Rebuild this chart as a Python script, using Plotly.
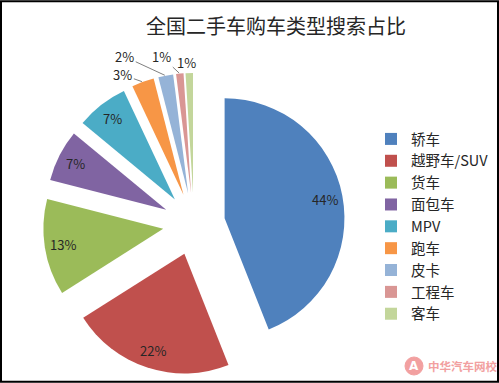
import math
import plotly.graph_objects as go

title = "全国二手车购车类型搜索占比"
categories = ["轿车", "越野车/SUV", "货车", "面包车", "MPV", "跑车", "皮卡", "工程车", "客车"]
values = [44, 22, 13, 7, 7, 3, 2, 1, 1]
colors = ["#4F81BD", "#C0504D", "#9BBB59", "#8064A2", "#4BACC6",
          "#F79646", "#95B3D7", "#D99694", "#C3D69B"]

# label styling: inside labels at a fraction of the radius, outside labels offset in px
label_inside = [True, True, True, True, True, False, False, False, False]
label_offsets = [None, None, None, None, None, (-20, -7), (-41, -19), (-18, -17), (-3, -11)]

W, H = 499, 383
font_family = "Noto Sans CJK SC, Noto Sans, sans-serif"
text_color = "#262626"
PULL = 0.26
DOM_X = [43 / W, 345 / W]
DOM_Y = [1 - 375 / H, 1 - 73 / H]

fig = go.Figure(go.Pie(
    labels=categories,
    values=values,
    sort=False,
    direction="clockwise",
    rotation=0,
    pull=[PULL] * len(values),
    marker=dict(colors=colors, line=dict(width=0)),
    textinfo="none",
    domain=dict(x=DOM_X, y=DOM_Y),
    automargin=False,
    hoverinfo="label+percent",
))

# geometry of the pie as laid out by plotly within its domain
cx = (DOM_X[0] + DOM_X[1]) / 2 * W
cy = (1 - (DOM_Y[0] + DOM_Y[1]) / 2) * H
r = min((DOM_X[1] - DOM_X[0]) * W, (DOM_Y[1] - DOM_Y[0]) * H) / 2 / (1 + PULL)

annotations = []
total = sum(values)
cum = 0
for v, inside, off in zip(values, label_inside, label_offsets):
    mid = (cum + v / 2) / total * 2 * math.pi
    cum += v
    dx, dy = math.sin(mid), -math.cos(mid)
    if inside:
        d = r * PULL + 0.85 * r
        px, py = cx + d * dx, cy + d * dy
        annotations.append(dict(
            text=f"{v}%", x=px / W, y=1 - py / H, xref="paper", yref="paper",
            showarrow=False, xanchor="center", yanchor="middle",
            font=dict(size=13, color=text_color, family=font_family)))
    else:
        d = r * (1 + PULL)
        px, py = cx + d * dx, cy + d * dy
        annotations.append(dict(
            text=f"{v}%", x=px / W, y=1 - py / H, xref="paper", yref="paper",
            showarrow=True, ax=off[0], ay=off[1], arrowhead=0, arrowwidth=1,
            arrowcolor="#7f7f7f", standoff=1, startstandoff=0,
            font=dict(size=13, color=text_color, family=font_family)))

wm_color = "#F2A0A0"
annotations += [
    dict(text="<b>A</b>", x=414 / W, y=1 - 366 / H, xref="paper", yref="paper",
         showarrow=False, font=dict(size=12, color="white", family="DejaVu Sans"),
         xanchor="center", yanchor="middle"),
    dict(text="<b>中华汽车网校</b>", x=426 / W, y=1 - 366 / H, xref="paper", yref="paper",
         showarrow=False, font=dict(size=11.5, color=wm_color, family=font_family),
         xanchor="left", yanchor="middle"),
]

fig.update_layout(
    width=W, height=H,
    margin=dict(l=0, r=0, t=0, b=0, autoexpand=False),
    paper_bgcolor="white",
    plot_bgcolor="white",
    font=dict(family=font_family, color=text_color),
    title=dict(text=title, x=276 / W, y=1 - 27 / H, xanchor="center", yanchor="middle",
               font=dict(size=20, color=text_color, family=font_family)),
    legend=dict(x=371 / W, y=1 - 123 / H, xanchor="left", yanchor="top",
                font=dict(size=14.5, color=text_color, family=font_family),
                bgcolor="rgba(0,0,0,0)"),
    showlegend=True,
    shapes=[
        dict(type="rect", xref="paper", yref="paper", x0=0.002, x1=0.998, y0=0.003, y1=0.997,
             line=dict(color="black", width=2), layer="above"),
        dict(type="circle", xref="paper", yref="paper",
             x0=405 / W, x1=423 / W, y0=1 - 375 / H, y1=1 - 357 / H,
             line=dict(color=wm_color, width=1), fillcolor=wm_color, layer="below"),
    ],
    annotations=annotations,
)

fig.write_html("out.html", config={"displayModeBar": False},
               post_script="document.body.style.margin='0';")
